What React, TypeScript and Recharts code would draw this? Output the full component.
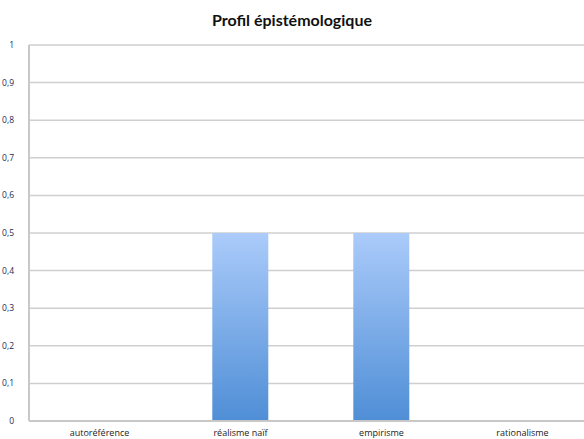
import React from 'react';
import { BarChart, Bar, XAxis, YAxis, CartesianGrid } from 'recharts';

const categories = ['autoréférence', 'réalisme naïf', 'empirisme', 'rationalisme'];
const values = [0, 0.5, 0.5, 0];
const yTicks = [0, 0.1, 0.2, 0.3, 0.4, 0.5, 0.6, 0.7, 0.8, 0.9, 1];

const data = categories.map((c, i) => ({ name: c, value: values[i] }));

export default function App() {
  return (
    <div style={{ position: 'absolute', left: 0, top: 0, width: 584, height: 439, overflow: 'hidden', background: '#fff' }}>
      <div
        style={{
          position: 'absolute',
          left: 0,
          top: 10,
          width: 584,
          textAlign: 'center',
          fontFamily: 'Lato, sans-serif',
          fontWeight: 700,
          fontSize: 16,
          color: '#111',
          lineHeight: '20px',
        }}
      >
        Profil épistémologique
      </div>
      <div style={{ position: 'absolute', left: 0, top: 0 }}>
        <BarChart
          width={600}
          height={439}
          data={data}
          margin={{ top: 45, right: 7, bottom: 0, left: 0 }}
          barCategoryGap="30%"
        >
          <defs>
            <linearGradient id="barGrad" x1="0" y1="0" x2="0" y2="1">
              <stop offset="0%" stopColor="#abcbfa" />
              <stop offset="100%" stopColor="#4f8ed6" />
            </linearGradient>
          </defs>
          <CartesianGrid vertical={false} stroke="#cfcfcf" strokeWidth={1.5} />
          <XAxis
            dataKey="name"
            height={18}
            tickLine={false}
            axisLine={{ stroke: '#c8c8c8', strokeWidth: 2 }}
            tick={{ fontSize: 9, fill: '#222', fontFamily: '"Open Sans", sans-serif' }}
            tickMargin={3}
            interval={0}
          />
          <YAxis
            width={29}
            domain={[0, 1]}
            ticks={yTicks}
            interval={0}
            tickLine={false}
            axisLine={{ stroke: '#c8c8c8', strokeWidth: 2 }}
            tickMargin={9}
            tick={{ fontSize: 8.5, fill: '#1c2a55', fontFamily: '"Open Sans", sans-serif' }}
            tickFormatter={(v: number) => String(Math.round(v * 10) / 10).replace('.', ',')}
          />
          <Bar dataKey="value" fill="url(#barGrad)" isAnimationActive={false} />
        </BarChart>
      </div>
    </div>
  );
}
